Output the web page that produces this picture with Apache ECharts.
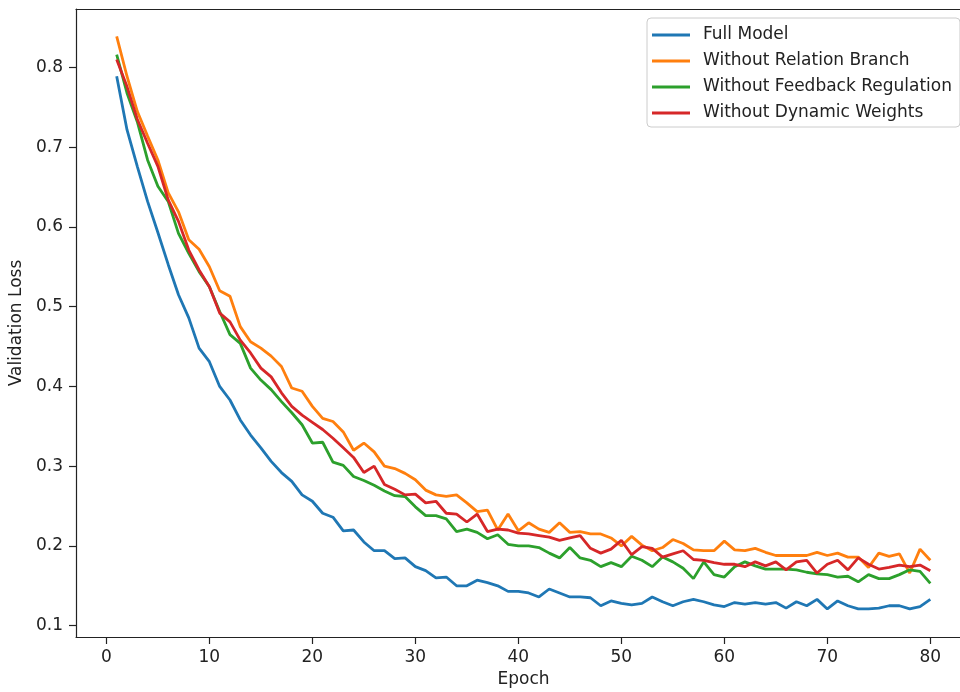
<!DOCTYPE html>
<html>
<head>
<meta charset="utf-8">
<script src="https://cdn.jsdelivr.net/npm/echarts@6/dist/echarts.min.js"></script>
<style>
  html, body { margin: 0; padding: 0; background: #ffffff; }
  #chart { width: 960px; height: 692px; }
</style>
</head>
<body>
<div id="chart"></div>
<script>
// epochs 1..80
var epochs = [];
for (var i = 1; i <= 80; i++) epochs.push(i);

var fullModel = [
  0.789, 0.722, 0.676, 0.632, 0.593, 0.553, 0.515, 0.486, 0.448, 0.431,
  0.400, 0.383, 0.358, 0.339, 0.323, 0.306, 0.292, 0.281, 0.264, 0.256,
  0.241, 0.236, 0.219, 0.220, 0.205, 0.194, 0.194, 0.184, 0.185, 0.174,
  0.169, 0.160, 0.161, 0.150, 0.150, 0.157, 0.154, 0.150, 0.143, 0.143,
  0.141, 0.136, 0.146, 0.141, 0.136, 0.136, 0.135, 0.125, 0.131, 0.128,
  0.126, 0.128, 0.136, 0.130, 0.125, 0.130, 0.133, 0.130, 0.126, 0.124,
  0.129, 0.127, 0.129, 0.127, 0.129, 0.122, 0.130, 0.125, 0.133, 0.121,
  0.131, 0.125, 0.121, 0.121, 0.122, 0.125, 0.125, 0.121, 0.124, 0.133
];
var noRelation = [
  0.839, 0.789, 0.745, 0.714, 0.684, 0.643, 0.619, 0.584, 0.572, 0.550,
  0.520, 0.513, 0.475, 0.456, 0.448, 0.438, 0.425, 0.398, 0.394, 0.375,
  0.360, 0.356, 0.343, 0.320, 0.329, 0.318, 0.300, 0.297, 0.291, 0.283,
  0.270, 0.264, 0.262, 0.264, 0.254, 0.243, 0.245, 0.220, 0.240, 0.219,
  0.229, 0.221, 0.217, 0.229, 0.217, 0.218, 0.215, 0.215, 0.210, 0.200,
  0.212, 0.201, 0.194, 0.198, 0.208, 0.203, 0.195, 0.194, 0.194, 0.206,
  0.195, 0.194, 0.197, 0.192, 0.188, 0.188, 0.188, 0.188, 0.192, 0.188,
  0.191, 0.186, 0.186, 0.173, 0.191, 0.187, 0.190, 0.166, 0.196, 0.182
];
var noFeedback = [
  0.816, 0.768, 0.732, 0.684, 0.651, 0.632, 0.592, 0.567, 0.544, 0.525,
  0.494, 0.465, 0.454, 0.423, 0.408, 0.396, 0.381, 0.367, 0.352, 0.329,
  0.330, 0.305, 0.301, 0.287, 0.282, 0.276, 0.269, 0.263, 0.262, 0.249,
  0.238, 0.238, 0.234, 0.218, 0.221, 0.217, 0.209, 0.214, 0.202, 0.200,
  0.200, 0.198, 0.191, 0.185, 0.198, 0.185, 0.182, 0.174, 0.179, 0.174,
  0.187, 0.182, 0.174, 0.186, 0.180, 0.172, 0.159, 0.180, 0.164, 0.161,
  0.174, 0.180, 0.175, 0.171, 0.171, 0.171, 0.170, 0.167, 0.165, 0.164,
  0.161, 0.162, 0.155, 0.164, 0.159, 0.159, 0.164, 0.170, 0.168, 0.153
];
var noDynamic = [
  0.810, 0.776, 0.735, 0.705, 0.676, 0.634, 0.607, 0.571, 0.546, 0.525,
  0.492, 0.481, 0.458, 0.442, 0.423, 0.412, 0.392, 0.375, 0.364, 0.355,
  0.346, 0.335, 0.323, 0.311, 0.292, 0.300, 0.277, 0.271, 0.264, 0.265,
  0.254, 0.256, 0.241, 0.240, 0.230, 0.240, 0.218, 0.221, 0.220, 0.216,
  0.215, 0.213, 0.211, 0.207, 0.210, 0.213, 0.197, 0.191, 0.196, 0.207,
  0.189, 0.199, 0.197, 0.186, 0.190, 0.194, 0.183, 0.182, 0.179, 0.177,
  0.177, 0.174, 0.180, 0.175, 0.180, 0.170, 0.180, 0.182, 0.166, 0.177,
  0.182, 0.170, 0.185, 0.177, 0.171, 0.173, 0.176, 0.174, 0.176, 0.169
];

var seriesNames = [
  "Full Model",
  "Without Relation Branch",
  "Without Feedback Regulation",
  "Without Dynamic Weights"
];
var seriesColors = ["#1f77b4", "#ff7f0e", "#2ca02c", "#d62728"];
var xTicks = [0, 10, 20, 30, 40, 50, 60, 70, 80];
var yTicks = [0.1, 0.2, 0.3, 0.4, 0.5, 0.6, 0.7, 0.8];

var font = "DejaVu Sans";
var X_MIN = -2.95, X_MAX = 83.95;

function pairs(vals) {
  return vals.map(function (v, i) { return [epochs[i], v]; });
}

var chart = echarts.init(document.getElementById("chart"));

var allData = [fullModel, noRelation, noFeedback, noDynamic];
var series = allData.map(function (vals, k) {
  return {
    name: seriesNames[k],
    type: "line",
    data: pairs(vals),
    showSymbol: false,
    symbol: "none",
    lineStyle: { width: 2.8, color: seriesColors[k] },
    itemStyle: { color: seriesColors[k] },
    animation: false
  };
});

chart.setOption({
  backgroundColor: "#ffffff",
  animation: false,
  textStyle: { fontFamily: font },
  grid: {
    left: 76,
    top: 9,
    width: 895,
    height: 628,
    outerBoundsMode: "none"
  },
  legend: {
    data: seriesNames,
    orient: "vertical",
    left: 647,
    top: 18,
    padding: [8, 8, 5, 5],
    itemGap: 8,
    itemWidth: 38,
    itemHeight: 3,
    icon: "rect",
    backgroundColor: "rgba(255,255,255,0.8)",
    borderColor: "#cccccc",
    borderWidth: 1,
    borderRadius: 4,
    textStyle: {
      fontFamily: font,
      fontSize: 17,
      color: "#222",
      lineHeight: 18,
      padding: [0, 0, 0, 8]
    }
  },
  xAxis: [{
    type: "value",
    min: X_MIN,
    max: X_MAX,
    name: "Epoch",
    nameLocation: "middle",
    nameGap: 34,
    nameTextStyle: { fontFamily: font, fontSize: 17, color: "#222" },
    axisLine: { show: true, onZero: false, lineStyle: { color: "#222", width: 1.2 } },
    axisTick: { show: true, length: 7, customValues: xTicks, lineStyle: { color: "#222", width: 1.2 } },
    axisLabel: { customValues: xTicks, fontFamily: font, fontSize: 17, color: "#222", margin: 12 },
    splitLine: { show: false }
  }, {
    // top spine only
    type: "value",
    position: "top",
    min: X_MIN,
    max: X_MAX,
    axisLine: { show: true, onZero: false, lineStyle: { color: "#222", width: 1.2 } },
    axisTick: { show: false },
    axisLabel: { show: false },
    splitLine: { show: false }
  }],
  yAxis: {
    type: "value",
    min: 0.0858,
    max: 0.8733,
    name: "Validation Loss",
    nameLocation: "middle",
    nameGap: 48,
    nameTextStyle: { fontFamily: font, fontSize: 17, color: "#222" },
    axisLine: { show: true, onZero: false, lineStyle: { color: "#222", width: 1.2 } },
    axisTick: { show: true, length: 7, customValues: yTicks, lineStyle: { color: "#222", width: 1.2 } },
    axisLabel: {
      customValues: yTicks,
      fontFamily: font,
      fontSize: 17,
      color: "#222",
      margin: 13,
      formatter: function (v) { return v.toFixed(1); }
    },
    splitLine: { show: false }
  },
  series: series
});
</script>
</body>
</html>
